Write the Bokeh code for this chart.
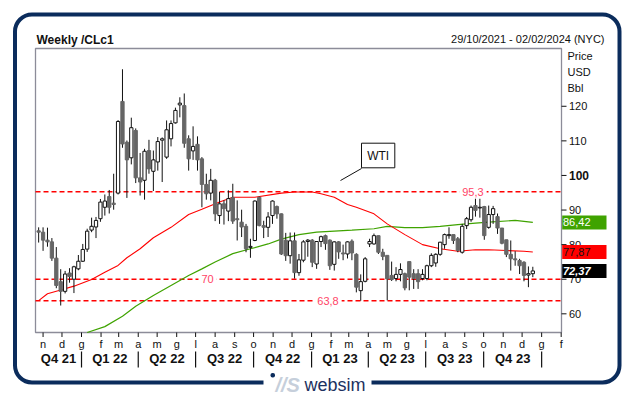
from datetime import datetime, timedelta
from bokeh.plotting import figure
from bokeh.models import Range1d, Label, BoxAnnotation, ColumnDataSource
from bokeh.core.properties import value
from bokeh.embed import file_html
from bokeh.resources import INLINE

# ---------------- data (weekly WTI /CLc1) ----------------
first_week = "2021-10-25"
opens = [84.0, 83.6, 81.3, 80.8, 76.1, 69.3, 66.5, 71.8, 70.0, 73.0,
         75.2, 78.7, 84.2, 85.1, 87.5, 90.8, 93.9, 92.0, 94.9, 121.4,
         109.6, 105.1, 113.0, 99.3, 98.6, 107.2, 101.2, 103.9, 110.2, 105.3,
         110.6, 115.2, 120.4, 120.2, 110.6, 107.1, 109.0, 104.8, 97.4, 94.9,
         98.6, 88.4, 91.8, 89.7, 93.6, 87.5, 86.5, 85.3, 79.2, 81.2,
         93.7, 85.5, 85.0, 88.4, 91.0, 88.9, 81.3, 76.8, 81.1, 71.9,
         75.5, 80.9, 81.3, 74.4, 80.9, 82.6, 81.3, 74.3, 80.8, 77.6,
         77.3, 81.0, 77.2, 66.7, 69.4, 80.2, 80.2, 82.6, 77.8, 76.9,
         71.1, 70.2, 71.4, 71.6, 75.1, 71.6, 71.6, 70.2, 70.2, 73.9,
         74.7, 77.2, 80.0, 82.6, 82.9, 81.7, 77.8, 85.5, 87.2, 91.3,
         90.6, 91.0, 85.0, 88.7, 88.1, 84.8, 81.4, 77.2, 75.9, 75.4,
         74.9, 71.2, 71.6]
highs = [85.0, 85.0, 84.9, 81.9, 79.3, 72.9, 72.4, 73.2, 73.9, 77.0,
         80.2, 84.6, 87.8, 88.0, 93.2, 94.5, 95.8, 100.5, 116.0, 130.7,
         110.1, 116.7, 113.6, 106.5, 107.7, 110.3, 107.2, 111.1, 111.0, 115.9,
         115.9, 119.6, 122.6, 123.7, 111.6, 114.2, 111.3, 105.3, 100.5, 101.9,
         99.0, 95.2, 92.8, 95.7, 97.6, 92.8, 90.1, 86.0, 81.7, 92.8,
         93.9, 86.9, 89.4, 92.8, 91.3, 89.0, 83.4, 83.5, 83.5, 77.3,
         81.3, 81.6, 81.6, 81.0, 82.6, 82.9, 81.5, 81.0, 81.0, 80.0,
         81.0, 81.5, 77.5, 71.4, 76.4, 81.7, 83.2, 82.6, 78.8, 76.9,
         75.1, 73.5, 74.6, 71.9, 75.1, 72.9, 72.9, 72.9, 74.2, 77.5,
         77.5, 80.8, 83.2, 85.0, 82.9, 82.2, 86.0, 88.0, 91.3, 93.7,
         94.7, 91.2, 91.3, 91.2, 89.0, 84.8, 81.4, 81.2, 78.1, 75.9,
         75.2, 73.7, 73.6]
lows = [80.6, 78.2, 79.4, 75.3, 67.4, 62.4, 65.9, 69.0, 66.0, 72.6,
        75.0, 77.9, 83.6, 81.9, 86.6, 88.4, 89.0, 90.1, 94.5, 108.0,
        93.5, 103.2, 97.8, 94.2, 93.0, 100.5, 95.5, 101.4, 98.1, 104.8,
        108.4, 115.0, 116.8, 108.0, 101.4, 104.5, 101.4, 90.8, 93.0, 92.8,
        86.8, 86.0, 85.8, 86.8, 86.0, 81.2, 82.2, 77.8, 76.2, 81.0,
        85.3, 81.9, 82.2, 86.0, 87.5, 77.0, 75.3, 74.5, 70.2, 71.0,
        74.9, 76.5, 73.5, 73.0, 79.3, 78.5, 72.7, 72.5, 75.9, 75.5,
        76.0, 75.5, 66.2, 63.8, 69.1, 79.3, 80.0, 77.3, 75.5, 63.9,
        69.5, 69.4, 69.4, 66.8, 66.8, 67.2, 67.2, 69.7, 69.7, 73.5,
        73.6, 76.8, 78.8, 81.7, 80.2, 77.8, 77.4, 84.5, 86.6, 88.1,
        87.8, 81.4, 84.6, 86.0, 83.1, 80.1, 76.4, 72.5, 73.9, 71.5,
        69.4, 67.7, 70.6]
closes = [83.6, 81.3, 80.8, 76.1, 68.2, 66.5, 71.5, 70.8, 73.6, 75.2,
          78.6, 83.9, 85.3, 87.0, 92.3, 92.6, 90.8, 91.6, 115.6, 109.1,
          104.5, 113.8, 99.3, 98.1, 107.0, 101.9, 104.5, 109.8, 110.6, 113.2,
          115.0, 118.8, 120.9, 109.3, 104.8, 108.4, 104.5, 97.4, 94.7, 98.6,
          88.9, 91.8, 90.4, 93.3, 86.8, 87.2, 85.1, 78.8, 79.5, 92.6,
          85.5, 85.0, 88.0, 92.6, 88.9, 77.3, 76.8, 81.1, 71.9, 75.6,
          80.8, 81.3, 74.9, 80.9, 82.3, 80.3, 73.9, 80.8, 77.9, 77.3,
          80.8, 77.6, 67.7, 69.3, 75.9, 80.9, 82.6, 77.8, 76.6, 70.1,
          69.9, 71.4, 72.8, 67.5, 70.6, 70.2, 69.3, 71.4, 73.9, 76.9,
          77.2, 80.7, 82.9, 82.9, 81.2, 78.3, 85.3, 87.5, 90.8, 89.9,
          90.8, 82.6, 88.7, 90.4, 84.8, 80.4, 77.2, 75.9, 75.6, 73.9,
          71.1, 71.6, 72.4]

# 50-week moving average (red)
ma50_dates = ["2021-10-25", "2021-11-08", "2021-11-29", "2021-12-20", "2022-01-17",
              "2022-02-07", "2022-02-28", "2022-03-14", "2022-04-04", "2022-04-25",
              "2022-05-23", "2022-06-20", "2022-07-11", "2022-08-08", "2022-08-29",
              "2022-10-03", "2022-11-14", "2022-12-05", "2023-01-02", "2023-01-16",
              "2023-02-06", "2023-02-27", "2023-03-13", "2023-04-10", "2023-05-01",
              "2023-05-29", "2023-06-26", "2023-07-24", "2023-08-21", "2023-09-18",
              "2023-10-09", "2023-11-06", "2023-12-04", "2023-12-18"]
ma50_vals = [63.8, 65.8, 66.9, 68.0, 69.9, 72.0, 74.0, 76.2, 78.8, 82.0,
             85.0, 88.7, 90.2, 92.3, 93.7, 93.7, 94.9, 95.2, 95.2, 94.7,
             93.7, 91.6, 90.8, 88.9, 86.0, 82.9, 80.0, 78.8, 78.1, 78.5,
             78.5, 78.3, 78.1, 77.87]
# 100-week moving average (green)
ma100_dates = ["2022-01-10", "2022-02-07", "2022-03-07", "2022-03-28", "2022-04-25",
               "2022-05-23", "2022-06-20", "2022-07-11", "2022-08-01", "2022-08-29",
               "2022-09-26", "2022-10-24", "2022-11-14", "2022-12-12", "2023-01-09",
               "2023-02-06", "2023-03-06", "2023-04-10", "2023-05-01", "2023-05-29",
               "2023-06-26", "2023-07-24", "2023-08-21", "2023-09-18", "2023-10-09",
               "2023-11-20", "2023-12-18"]
ma100_vals = [54.6, 56.3, 59.3, 62.2, 65.3, 68.2, 71.1, 73.0, 75.0, 77.4,
              78.8, 80.2, 81.6, 82.9, 83.6, 83.9, 84.2, 84.6, 85.3, 84.9,
              84.9, 85.3, 85.8, 86.2, 86.5, 87.0, 86.42]

levels = [95.3, 70.0, 63.8]
level_texts = ["95,3", "70", "63,8"]
level_label_dates = ["2023-09-14", "2022-07-20", "2023-01-27"]

last_values = [86.42, 77.87, 72.37]
last_texts = ["86,42", "77,87", "72,37"]

month_letters = ["g", "f", "m", "a", "m", "g", "l", "a", "s", "o", "n", "d"]
quarter_names = ["Q4 21", "Q1 22", "Q2 22", "Q3 22", "Q4 22", "Q1 23", "Q2 23", "Q3 23", "Q4 23"]
quarter_starts = ["2021-10-01", "2022-01-01", "2022-04-01", "2022-07-01", "2022-10-01",
                  "2023-01-01", "2023-04-01", "2023-07-01", "2023-10-01", "2024-01-01"]
y_ticks = [60, 70, 80, 90, 100, 110, 120]
y_tick_labels = ["60", "70", "80", "90", "100", "110", "120"]

# ---------------- helpers ----------------
EPOCH = datetime(1970, 1, 1)
DAY = 86400000.0


def ms(d):
    if isinstance(d, str):
        d = datetime.fromisoformat(d)
    return (d - EPOCH).total_seconds() * 1000.0


# price panel: its date / price extent and where it sits in the 635x396 picture
x0, x1 = ms(datetime(2021, 10, 20)), ms(datetime(2024, 2, 1, 12))
y0, y1 = 54.6, 136.7
PX0, PX1, PY0, PY1 = 35, 561, 48, 332
W, H = 635, 396


def X(px):
    return x0 + (px - PX0) / (PX1 - PX0) * (x1 - x0)


def Y(py):
    return y1 - (py - PY0) / (PY1 - PY0) * (y1 - y0)


PXY = (PY1 - PY0) / (y1 - y0)  # pixels per price unit

FONT = "Liberation Sans"
NAVY = "#0b2c5c"
INK = "#111111"

week0 = datetime.fromisoformat(first_week)
wk = [ms(week0 + timedelta(weeks=i)) for i in range(len(closes))]

up = [i for i in range(len(closes)) if closes[i] >= opens[i]]
dn = [i for i in range(len(closes)) if closes[i] < opens[i]]

src_w = ColumnDataSource(dict(x=wk, h=highs, l=lows))
src_up = ColumnDataSource(dict(x=[wk[i] for i in up],
                               top=[closes[i] for i in up],
                               bot=[opens[i] for i in up]))
src_dn = ColumnDataSource(dict(x=[wk[i] for i in dn],
                               top=[opens[i] for i in dn],
                               bot=[closes[i] for i in dn]))

p = figure(width=W, height=H, x_range=Range1d(X(0), X(W)), y_range=Range1d(Y(H), Y(0)),
           x_axis_location=None, y_axis_location=None, toolbar_location=None,
           output_backend="svg", min_border=0)
p.background_fill_color = "white"
p.border_fill_color = "white"
p.outline_line_color = None
p.grid.visible = False


def txt(x, y, t, size="11px", align="left", style="normal", color=INK):
    p.text(x=x, y=y, text=t, text_font=value(FONT), text_font_size=value(size),
           text_align=align, text_baseline="middle", text_font_style=style, text_color=color)


# price panel box
p.quad(left=[x0], right=[x1], bottom=[y0], top=[y1], fill_color="white",
       line_color="#8c8c99", line_width=1.3)

# x axis: month initials
months = []
d = datetime(2021, 11, 1)
while d <= datetime(2024, 2, 1):
    months.append(d)
    d = datetime(d.year + (d.month // 12), d.month % 12 + 1, 1)
mticks = [ms(m) for m in months]
p.segment(x0=mticks, y0=[Y(PY1)] * len(mticks), x1=mticks, y1=[Y(PY1 + 4.5)] * len(mticks),
          line_color=INK, line_width=1)
txt(mticks, [Y(343.5)] * len(mticks), [month_letters[m.month - 1] for m in months], align="center")

# y axis on the right
p.segment(x0=[X(PX1)] * len(y_ticks), y0=y_ticks, x1=[X(PX1 + 5)] * len(y_ticks), y1=y_ticks,
          line_color=INK, line_width=1)
norm = [i for i, t in enumerate(y_tick_labels) if t != "100"]
txt([X(568.5)] * len(norm), [y_ticks[i] for i in norm], [y_tick_labels[i] for i in norm])
txt([X(568.5)], [100], ["100"], size="12px", style="bold")

for t, py in zip(["Price", "USD", "Bbl"], [55, 71, 87]):
    txt([X(567)], [Y(py)], [t])

# title and date range
txt([X(36)], [Y(39)], ["Weekly /CLc1"], size="12px", style="bold")
txt([X(604)], [Y(38.5)], ["29/10/2021 - 02/02/2024 (NYC)"], align="right")

# quarter labels and separators
qs = [ms(s) for s in quarter_starts]
qc = [(max(qs[i], x0) + min(qs[i + 1], x1)) / 2 for i in range(len(quarter_names))]
txt(qc, [Y(358)] * len(qc), quarter_names, size="13px", align="center", style="bold")
p.segment(x0=qs[1:], y0=[Y(351)] * (len(qs) - 1), x1=qs[1:], y1=[Y(367)] * (len(qs) - 1),
          line_color=INK, line_width=1.2)

# horizontal levels
p.segment(x0=[x0] * len(levels), y0=levels, x1=[x1] * len(levels), y1=levels,
          line_color="#ff0000", line_dash="5 3", line_width=1.5)

# moving averages
p.line([ms(s) for s in ma100_dates], ma100_vals, line_color="#3fa300", line_width=1.2)
p.line([ms(s) for s in ma50_dates], ma50_vals, line_color="#ff0000", line_width=1.1)

# candles
bw = 5.2 * DAY
p.segment(x0="x", y0="h", x1="x", y1="l", source=src_w, line_color=INK, line_width=1)
p.vbar(x="x", width=bw, top="top", bottom="bot", source=src_dn,
       fill_color="#666666", line_color="#666666", line_width=1)
p.vbar(x="x", width=bw, top="top", bottom="bot", source=src_up,
       fill_color="white", line_color=INK, line_width=1)

# level labels
for lv, tx, dd in zip(levels, level_texts, level_label_dates):
    p.add_layout(Label(x=ms(dd), y=lv, text=tx, text_align="center", text_baseline="middle",
                       text_font=FONT, text_font_size="11px", text_color="#ff4466",
                       background_fill_color="white", background_fill_alpha=1, padding=3))

# WTI callout
p.segment(x0=[X(340)], y0=[Y(180)], x1=[X(361)], y1=[Y(168)], line_color=INK, line_width=1)
p.add_layout(BoxAnnotation(left=X(361), right=X(394.3), top=Y(142.7), bottom=Y(167.3),
                           fill_color="white", fill_alpha=1, line_color=INK, line_alpha=1,
                           line_width=1))
p.add_layout(Label(x=X(377.7), y=Y(155), text="WTI", text_align="center", text_baseline="middle",
                   text_font=FONT, text_font_size="12px", text_color=INK))

# last-value boxes
box_cols = ["#3fa300", "#ff0000", "#000000"]
txt_cols = ["white", INK, "white"]
txt_style = ["normal", "normal", "bold italic"]
hh = 7 / PXY
for v, t, bc, tc, st in zip(last_values, last_texts, box_cols, txt_cols, txt_style):
    p.add_layout(BoxAnnotation(left=X(561.7), right=X(606), top=v + hh, bottom=v - hh,
                               fill_color=bc, fill_alpha=1, line_color=None))
    p.add_layout(Label(x=X(562.5), y=v, text=t, text_align="left", text_baseline="middle",
                       text_font=FONT, text_font_size="11px", text_color=tc, text_font_style=st))

# outer rounded frame with logo
p.add_layout(BoxAnnotation(left=X(14.5), right=X(619), top=Y(14), bottom=Y(382),
                           fill_alpha=0, line_color=NAVY, line_alpha=1, line_width=4,
                           border_radius=17))
p.add_layout(BoxAnnotation(left=X(263), right=X(371), top=Y(377), bottom=Y(388),
                           fill_color="white", fill_alpha=1, line_color=None))
p.add_layout(BoxAnnotation(left=X(270), right=X(274.5), top=Y(372.5), bottom=Y(377),
                           fill_color=NAVY, fill_alpha=1, line_color=None, border_radius=2))
p.add_layout(Label(x=X(275), y=Y(384), text="//S", text_align="left", text_baseline="middle",
                   text_font=FONT, text_font_size="20px", text_font_style="bold italic",
                   text_color="#c6cfdb"))
p.add_layout(Label(x=X(304), y=Y(384), text="websim", text_align="left", text_baseline="middle",
                   text_font=FONT, text_font_size="18px", text_color="#1c3160"))

open("out.html", "w").write(file_html(p, INLINE))
